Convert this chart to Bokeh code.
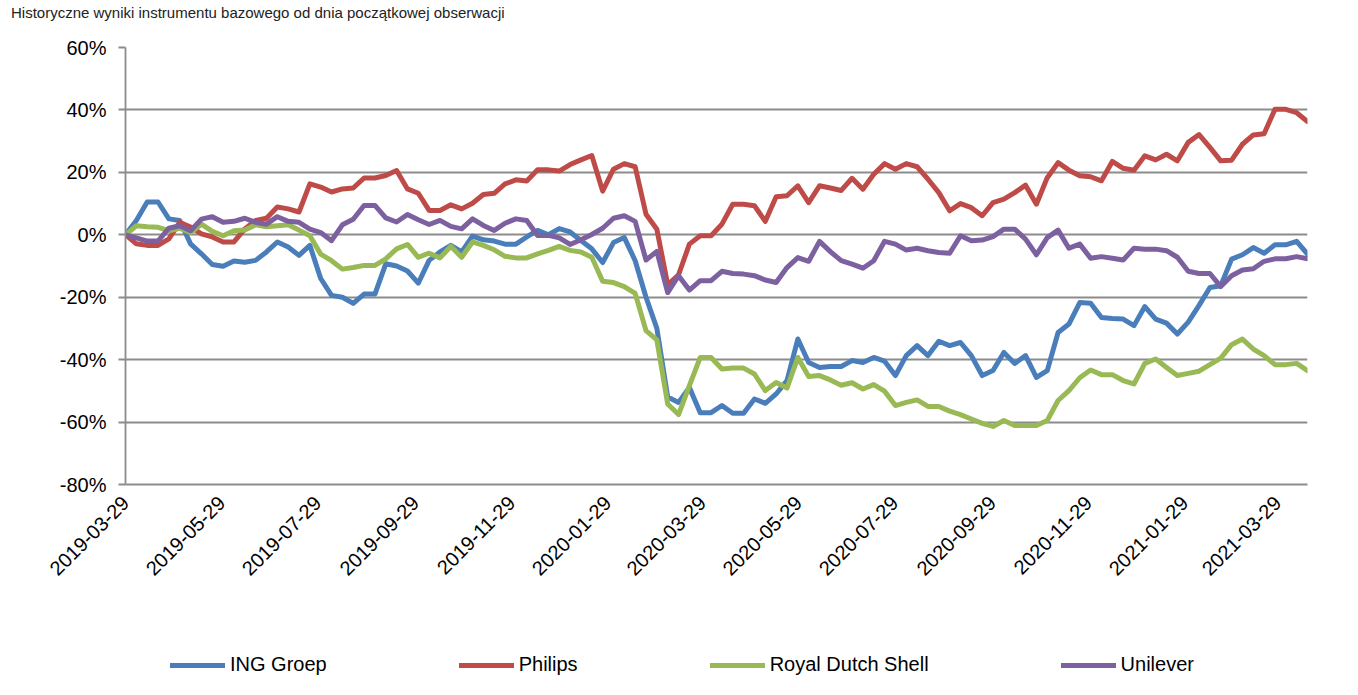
import pandas as pd
from math import pi
from bokeh.plotting import figure
from bokeh.layouts import column
from bokeh.models import (Range1d, FixedTicker, DatetimeTickFormatter, PrintfTickFormatter,
                          Legend, LegendItem, ColumnDataSource, Div)
from bokeh.embed import file_html
from bokeh.resources import INLINE

title_text = "Historyczne wyniki instrumentu bazowego od dnia początkowej obserwacji"
start_date = "2019-03-29"
end_date = "2021-04-17"
tick_labels = ["2019-03-29", "2019-05-29", "2019-07-29", "2019-09-29", "2019-11-29",
               "2020-01-29", "2020-03-29", "2020-05-29", "2020-07-29", "2020-09-29",
               "2020-11-29", "2021-01-29", "2021-03-29"]
y_ticks = [-80, -60, -40, -20, 0, 20, 40, 60]
series_names = ["ING Groep", "Philips", "Royal Dutch Shell", "Unilever"]
series_colors = ["#4A7EBB", "#BE4B48", "#98B954", "#7D60A0"]

ing = [0, 4.6, 10.5, 10.5, 5.1, 4.6, -2.9, -6.1, -9.5, -10.1, -8.4, -8.8, -8.2, -5.5, -2.3, -3.9, -6.6, -3.4, -14, -19.4, -20, -22,
       -19, -19, -9.3, -10, -11.6, -15.5, -8.2, -5.5, -3.4, -5.5, -0.4, -1.6, -2, -3, -3, -0.7, 1.4, 0, 2, 0.9, -1.8, -4.5,
       -8.9, -2.5, -0.9, -8.3, -20, -30, -52, -53.7, -48.9, -57, -57, -54.7, -57.2, -57.2, -52.6, -54, -51, -46.7, -33.4, -40.9, -42.5,
       -42.2, -42.2, -40.3, -40.9, -39.3, -40.5, -45.1, -38.7, -35.5, -38.7, -34.1, -35.5, -34.5, -38.7, -45.1, -43.5, -37.7, -41.2, -38.7, -45.7, -43.5, -31.3,
       -28.6, -21.7, -21.9, -26.5, -26.8, -27, -29.1, -23, -27, -28.3, -31.8, -28, -22.6, -16.9, -16.3, -7.8, -6.4, -4.1, -5.9, -3.2, -3.2, -2.1, -6.2]
philips = [0, -2.9, -3.4, -3.4, -1.3, 4, 2.5, 0.3, -0.7, -2.3, -2.3, 1.9, 4.6, 5.3, 8.9, 8.3, 7.3, 16.3, 15.3, 13.7, 14.7, 15,
           18.2, 18.2, 19, 20.6, 14.7, 13.3, 7.8, 7.8, 9.6, 8.3, 10.1, 12.9, 13.3, 16.3, 17.6, 17.2, 20.8, 20.8, 20.4, 22.5, 24, 25.4,
           14, 21, 22.8, 21.8, 6.6, 1.8, -16, -12.8, -3, -0.3, -0.3, 3.4, 9.8, 9.8, 9.3, 4.3, 12.2, 12.5, 15.7, 10.3, 15.7,
           15, 14.2, 18.1, 14.6, 19.4, 22.8, 21, 22.8, 21.8, 17.8, 13.5, 7.7, 10, 8.7, 6.1, 10.3, 11.4, 13.5, 15.9, 9.8, 18.3, 23.1,
           20.7, 18.9, 18.6, 17.3, 23.5, 21.3, 20.7, 25.3, 24, 25.8, 23.7, 29.6, 32.1, 28, 23.7, 23.9, 29, 32, 32.4, 40.2, 40.2, 39.1, 36.3]
shell = [0, 2.9, 2.6, 2.4, 1.3, 2.1, 0.7, 3.4, 1.1, -0.3, 1.3, 1.5, 3.2, 2.6, 2.9, 3.2, 1.5, -0.3, -6.2, -8.3, -11, -10.5,
         -9.8, -9.8, -7.7, -4.5, -3.1, -7.2, -5.9, -7.4, -3.7, -7.2, -2.3, -3.4, -4.8, -6.9, -7.4, -7.4, -6.1, -5, -3.7, -5, -5.5, -7.2,
         -14.9, -15.3, -16.6, -18.8, -30.7, -33.7, -54.2, -57.6, -48.3, -39.3, -39.3, -43, -42.7, -42.7, -44.6, -49.9, -47.3, -49.1, -39.3, -45.4, -45.1,
         -46.5, -48.2, -47.4, -49.4, -48, -50.1, -54.7, -53.7, -52.9, -55, -55, -56.5, -57.6, -59, -60.4, -61.4, -59.5, -61.1, -61.1, -61.1, -59.5, -53.1,
         -49.9, -45.8, -43.3, -44.8, -44.8, -46.7, -47.8, -41.2, -39.8, -42.5, -45.1, -44.4, -43.7, -41.6, -39.5, -35.2, -33.4, -36.6, -38.7, -41.6, -41.6, -41.2, -43.5]
unilever = [0, -1, -2, -2, 2.1, 2.9, 1.3, 5, 5.8, 4, 4.3, 5.3, 4, 3.4, 5.8, 4.3, 4, 1.8, 0.7, -1.9, 3.2, 5,
            9.4, 9.4, 5.4, 4.1, 6.5, 4.8, 3.3, 4.6, 2.7, 1.9, 5.1, 3, 1.4, 3.7, 5.1, 4.6, -0.2, -0.2, -1, -3.1, -1.6, 0.1,
            2.1, 5.3, 6.1, 4.3, -8.1, -5.3, -18.5, -13.1, -17.7, -14.7, -14.7, -11.7, -12.4, -12.6, -13.1, -14.5, -15.3, -10.5, -7.3, -8.5, -2.1,
            -5.4, -8.3, -9.4, -10.7, -8.3, -2.1, -3, -4.9, -4.3, -5.1, -5.7, -5.9, -0.3, -1.9, -1.7, -0.6, 1.8, 1.8, -1.4, -6.4, -0.9, 1.5,
            -4.3, -3, -7.5, -7, -7.5, -8.1, -4.3, -4.6, -4.6, -5.1, -7.2, -11.7, -12.4, -12.4, -16.6, -13.1, -11.3, -10.9, -8.5, -7.7, -7.7, -7, -7.7]

FONT = "Liberation Sans"


def ms(d):
    return pd.Timestamp(d).value / 1e6


dates = pd.date_range(start_date, end_date, periods=len(ing))
source = ColumnDataSource(dict(date=dates, ing=ing, philips=philips, shell=shell, unilever=unilever))

# ---- title line ----
title_div = Div(text=title_text, width=1358, height=16,
                styles={"font-family": FONT, "font-size": "15px", "color": "#222222",
                        "line-height": "15px", "white-space": "nowrap", "padding-left": "6px"})

# ---- main chart ----
p = figure(width=1358, height=574, x_axis_type="datetime",
           x_range=Range1d(ms(start_date), ms(end_date)), y_range=Range1d(-80, 60),
           output_backend="svg", toolbar_location=None,
           min_border_left=125, min_border_right=51, min_border_top=21, min_border_bottom=116)
p.outline_line_color = None
p.background_fill_color = "white"
p.border_fill_color = "white"

p.xgrid.visible = False
p.ygrid.ticker = FixedTicker(ticks=y_ticks)
p.ygrid.grid_line_color = "#8c8c8c"
p.ygrid.grid_line_width = 1.8

p.yaxis.ticker = FixedTicker(ticks=y_ticks)
p.yaxis.formatter = PrintfTickFormatter(format="%d%%")
p.yaxis.axis_line_color = "#8c8c8c"
p.yaxis.axis_line_width = 1.8
p.yaxis.major_tick_line_color = "#8c8c8c"
p.yaxis.major_tick_line_width = 1.8
p.yaxis.major_tick_out = 7
p.yaxis.major_tick_in = 0
p.yaxis.minor_tick_line_color = None
p.yaxis.major_label_standoff = 12
p.yaxis.major_label_text_font = FONT
p.yaxis.major_label_text_font_size = "20px"
p.yaxis.major_label_text_color = "black"

fmt = "%Y-%m-%d"
p.xaxis.ticker = FixedTicker(ticks=[ms(d) for d in tick_labels])
p.xaxis.formatter = DatetimeTickFormatter(milliseconds=fmt, seconds=fmt, minsec=fmt, minutes=fmt,
                                          hourmin=fmt, hours=fmt, days=fmt, months=fmt, years=fmt)
p.xaxis.major_label_orientation = pi / 4
p.xaxis.axis_line_color = "#8c8c8c"
p.xaxis.axis_line_width = 1.8
p.xaxis.major_tick_line_color = None
p.xaxis.minor_tick_line_color = None
p.xaxis.major_label_standoff = 9
p.xaxis.major_label_text_font = FONT
p.xaxis.major_label_text_font_size = "20px"
p.xaxis.major_label_text_color = "black"

cols = ["ing", "philips", "shell", "unilever"]
for col, color in zip(cols, series_colors):
    p.line("date", col, source=source, line_color=color, line_width=5,
           line_join="round", line_cap="round")

# ---- legend strip (its frame is aligned with the chart frame by the column) ----
pl = figure(width=1358, height=95, x_range=Range1d(0, 1), y_range=Range1d(0, 1),
            output_backend="svg", toolbar_location=None,
            x_axis_location=None, y_axis_location=None, min_border=0)
pl.outline_line_color = None
pl.grid.visible = False
leg_renderers = []
for color in series_colors:
    # swatch-only renderers, placed outside the visible range
    leg_renderers.append(pl.line(x=[-5, -4], y=[-5, -5], line_color=color, line_width=5, line_cap="round"))

legend = Legend(items=[LegendItem(label=n, renderers=[r]) for n, r in zip(series_names, leg_renderers)],
                orientation="horizontal", location=(45, 19), spacing=132,
                glyph_width=55, glyph_height=22, label_standoff=5, padding=0, margin=0,
                border_line_alpha=0, background_fill_alpha=0,
                label_text_font=FONT, label_text_font_size="20px", label_text_color="black")
pl.add_layout(legend)

open("out.html", "w").write(file_html(column(title_div, p, pl, spacing=0), INLINE))
